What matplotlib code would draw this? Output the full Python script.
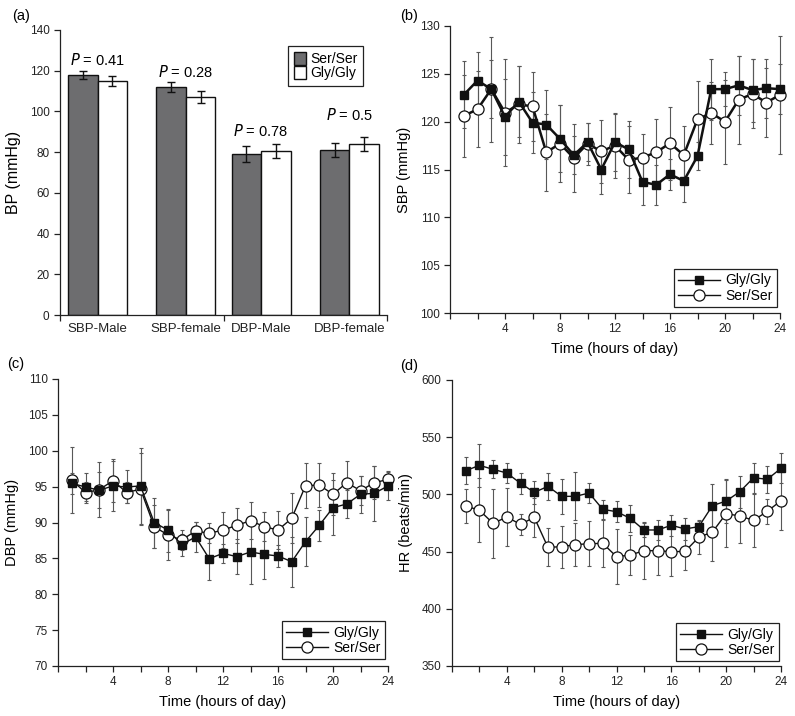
import matplotlib
matplotlib.use("Agg")
import matplotlib.pyplot as plt
import numpy as np
from matplotlib.patches import Patch
from matplotlib.lines import Line2D

plt.rcParams['font.family'] = ['Liberation Sans', 'DejaVu Sans']

# ---------------- data ----------------
bar_categories = ["SBP-Male", "SBP-female", "DBP-Male", "DBP-female"]
ser_bp = [118, 112, 79, 81]
ser_bp_err = [2.0, 2.5, 4.0, 3.5]
gly_bp = [115, 107, 80.5, 84]
gly_bp_err = [2.5, 3.0, 3.5, 3.5]
p_labels = ["0.41", "0.28", "0.78", "0.5"]

hours = list(range(1, 25))

sbp_gly = [122.8, 124.3, 123.4, 120.5, 122.1, 119.9, 119.7, 118.2, 116.5, 117.85, 115.0, 117.85,
           117.1, 113.7, 113.4, 114.5, 113.8, 116.4, 123.4, 123.4, 123.8, 123.3, 123.5, 123.4]
sbp_gly_err = [3.5, 3.0, 3.0, 4.0, 3.7, 3.2, 3.6, 3.5, 2.0, 2.0, 2.6, 3.0,
               3.0, 2.4, 2.1, 1.6, 2.2, 1.5, 3.2, 1.8, 3.1, 3.3, 3.1, 2.6]
sbp_ser = [120.6, 121.3, 123.4, 120.95, 121.8, 121.6, 116.8, 117.7, 116.2, 117.7, 116.9, 117.5,
           116.0, 116.25, 116.8, 117.75, 116.5, 120.25, 120.9, 120.0, 122.3, 122.9, 122.0, 122.8]
sbp_ser_err = [4.3, 4.0, 5.5, 5.6, 4.0, 3.6, 4.0, 4.0, 3.6, 2.2, 3.3, 3.4,
               3.5, 2.5, 3.5, 3.8, 3.0, 4.0, 3.2, 4.4, 4.6, 3.6, 3.6, 6.2]

dbp_gly = [95.46, 94.95, 94.5, 95.1, 94.95, 95.1, 89.98, 88.95, 86.9, 88.0, 84.96, 85.7,
           85.24, 85.9, 85.56, 85.33, 84.54, 87.33, 89.6, 92.07, 92.58, 93.93, 94.07, 95.09]
dbp_gly_err = [1.5, 2.0, 2.5, 3.5, 2.3, 5.3, 3.5, 3.0, 1.5, 2.1, 3.0, 1.3,
               2.4, 4.5, 3.5, 1.6, 3.5, 3.4, 2.2, 3.8, 2.0, 2.6, 3.8, 2.0]
dbp_ser = [95.92, 94.16, 94.58, 95.83, 94.16, 94.67, 89.42, 88.26, 87.56, 88.82, 88.49, 88.95,
           89.6, 90.26, 89.42, 88.95, 90.58, 95.13, 95.22, 93.93, 95.55, 94.44, 95.55, 96.0]
dbp_ser_err = [4.6, 1.5, 3.8, 3.0, 1.5, 5.0, 3.0, 3.5, 1.4, 1.3, 1.4, 2.5,
               2.4, 2.6, 2.0, 2.6, 3.5, 3.1, 3.1, 2.9, 3.0, 2.0, 2.3, 1.2]

hr_gly = [520.7, 525.4, 521.9, 518.7, 509.7, 501.8, 507.0, 498.3, 498.3, 501.2, 486.9, 484.9,
          479.1, 468.9, 468.9, 473.0, 469.8, 471.8, 490.2, 494.2, 502.4, 514.6, 513.2, 522.8]
hr_gly_err = [12, 19, 8, 9, 9, 10, 12, 15, 21, 9, 8, 9,
              12, 6, 9, 9, 10, 5, 19, 19, 14, 13, 12, 13]
hr_ser = [489.9, 486.1, 474.7, 480.2, 473.8, 480.0, 453.7, 454.3, 456.1, 456.9, 457.2, 445.6,
          447.0, 450.8, 450.8, 449.9, 450.2, 462.5, 467.1, 483.2, 481.1, 477.3, 485.2, 494.5]
hr_ser_err = [14.6, 28, 30, 25, 9, 17, 16.5, 18.5, 18.5, 19.5, 20.5, 24,
              17.5, 25, 21, 21, 16, 15, 25, 29, 24, 23, 11, 26]

# ---------------- layout ----------------
W, H = 795, 716
fig = plt.figure(figsize=(W / 100, H / 100), dpi=100)


def ax_at(l, t, r, b):
    return fig.add_axes([l / W, 1 - b / H, (r - l) / W, (b - t) / H])


TICK_FS = 8.5
LABEL_FS = 10.5
BAR_GRAY = '#6d6d6f'
ERR_GRAY = '#585858'


def style_axes(ax):
    for s in ['top', 'right']:
        ax.spines[s].set_visible(False)
    for s in ['left', 'bottom']:
        ax.spines[s].set_linewidth(0.9)
        ax.spines[s].set_color('#222222')
    ax.tick_params(which='both', direction='out', length=4, width=0.9,
                   labelsize=TICK_FS, colors='#222222')


# ---------------- panel (a) ----------------
axa = ax_at(60, 30, 387, 315)
style_axes(axa)
bw = 0.36
centers = [2 * h + off for h in (0, 1) for off in (0.46, 1.54)]
xs_ser = [c - bw / 2 for c in centers]
xs_gly = [c + bw / 2 for c in centers]
axa.bar(xs_ser, ser_bp, width=bw, color=BAR_GRAY, edgecolor='#111111', linewidth=1.0,
        yerr=ser_bp_err, error_kw=dict(ecolor='#111111', elinewidth=1.0, capsize=3, capthick=1.0),
        label='Ser/Ser')
axa.bar(xs_gly, gly_bp, width=bw, color='white', edgecolor='#111111', linewidth=1.0,
        yerr=gly_bp_err, error_kw=dict(ecolor='#111111', elinewidth=1.0, capsize=3, capthick=1.0),
        label='Gly/Gly')
axa.set_xlim(0, 4)
axa.set_ylim(0, 140)
axa.set_yticks(range(0, 141, 20))
axa.set_xticks([0, 2, 4])
axa.set_xticklabels(['', '', ''])
axa.set_xticks(centers, minor=True)
axa.set_xticklabels(bar_categories, minor=True, fontsize=9.5)
axa.tick_params(axis='x', which='minor', length=0, pad=6)
axa.set_ylabel('BP (mmHg)', fontsize=11.5, labelpad=6)
p_y = [121.3, 115.4, 86.5, 94.3]
for c, p, yy in zip(centers, p_labels, p_y):
    axa.text(c, yy, r'$\it{P}$ = ' + p, ha='center', va='bottom', fontsize=10.5)
leg_a = axa.legend(handles=[Patch(facecolor=BAR_GRAY, edgecolor='#111111', label='Ser/Ser'),
                            Patch(facecolor='white', edgecolor='#111111', label='Gly/Gly')],
                   loc='upper right', bbox_to_anchor=(0.927, 0.944), borderaxespad=0,
                   fontsize=10, handlelength=0.9, handleheight=1.1, handletextpad=0.3,
                   labelspacing=0.0, borderpad=0.4, fancybox=False, framealpha=1)
leg_a.get_frame().set_edgecolor('#222222')
leg_a.get_frame().set_linewidth(0.9)
fig.text(12 / W, 1 - 20 / H, '(a)', fontsize=10.5, ha='left', va='baseline')


# ---------------- line panels ----------------
def line_panel(box, gly, gly_err, ser, ser_err, ylim, ystep, ylabel, lw, leg_anchor, tag, tagpos):
    ax = ax_at(*box)
    style_axes(ax)
    for yv, ev in ((ser, ser_err), (gly, gly_err)):
        eb = ax.errorbar(hours, yv, yerr=ev, fmt='none', ecolor=ERR_GRAY, elinewidth=0.8,
                         capsize=1.6, capthick=0.8, zorder=2)
        for art in eb.get_children():
            art.set_clip_on(False)
    ax.plot(hours, ser, '-', color='#111111', lw=lw, marker='o', markersize=8,
            markerfacecolor='white', markeredgecolor='#111111', markeredgewidth=0.9,
            zorder=3, label='Ser/Ser', clip_on=False)
    ax.plot(hours, gly, '-', color='#111111', lw=lw, marker='s', markersize=5.5,
            markerfacecolor='#111111', markeredgecolor='#111111', zorder=4, label='Gly/Gly',
            clip_on=False)
    ax.set_xlim(0, 24)
    ax.set_ylim(*ylim)
    ax.set_yticks(np.arange(ylim[0], ylim[1] + 0.1, ystep))
    ax.set_xticks(range(4, 25, 4))
    ax.set_xticks(range(0, 25, 2), minor=True)
    ax.set_xlabel('Time (hours of day)', fontsize=LABEL_FS, labelpad=5)
    ax.set_ylabel(ylabel, fontsize=LABEL_FS, labelpad=6)
    handles = [Line2D([], [], color='#111111', lw=1.0, marker='s', markersize=5.5,
                      markerfacecolor='#111111', label='Gly/Gly'),
               Line2D([], [], color='#111111', lw=1.0, marker='o', markersize=8,
                      markerfacecolor='white', markeredgewidth=0.9, label='Ser/Ser')]
    leg = ax.legend(handles=handles, loc='lower right', bbox_to_anchor=leg_anchor,
                    borderaxespad=0, fontsize=10, handlelength=3.0, handletextpad=0.4,
                    labelspacing=0.1, borderpad=0.3, fancybox=False, framealpha=1)
    leg.get_frame().set_edgecolor('#222222')
    leg.get_frame().set_linewidth(0.9)
    fig.text(tagpos[0] / W, 1 - tagpos[1] / H, tag, fontsize=10.5, ha='left', va='baseline')
    return ax


line_panel((450, 26, 780, 313), sbp_gly, sbp_gly_err, sbp_ser, sbp_ser_err,
           (100, 130), 5, 'SBP (mmHg)', 1.8, (0.991, 0.021), '(b)', (400, 20))
line_panel((58, 379, 388, 666), dbp_gly, dbp_gly_err, dbp_ser, dbp_ser_err,
           (70, 110), 5, 'DBP (mmHg)', 1.0, (0.991, 0.024), '(c)', (7, 368))
line_panel((452, 380, 781, 666), hr_gly, hr_gly_err, hr_ser, hr_ser_err,
           (350, 600), 50, 'HR (beats/min)', 1.0, (0.994, 0.017), '(d)', (400, 370))

fig.savefig('out.png', dpi=100)
